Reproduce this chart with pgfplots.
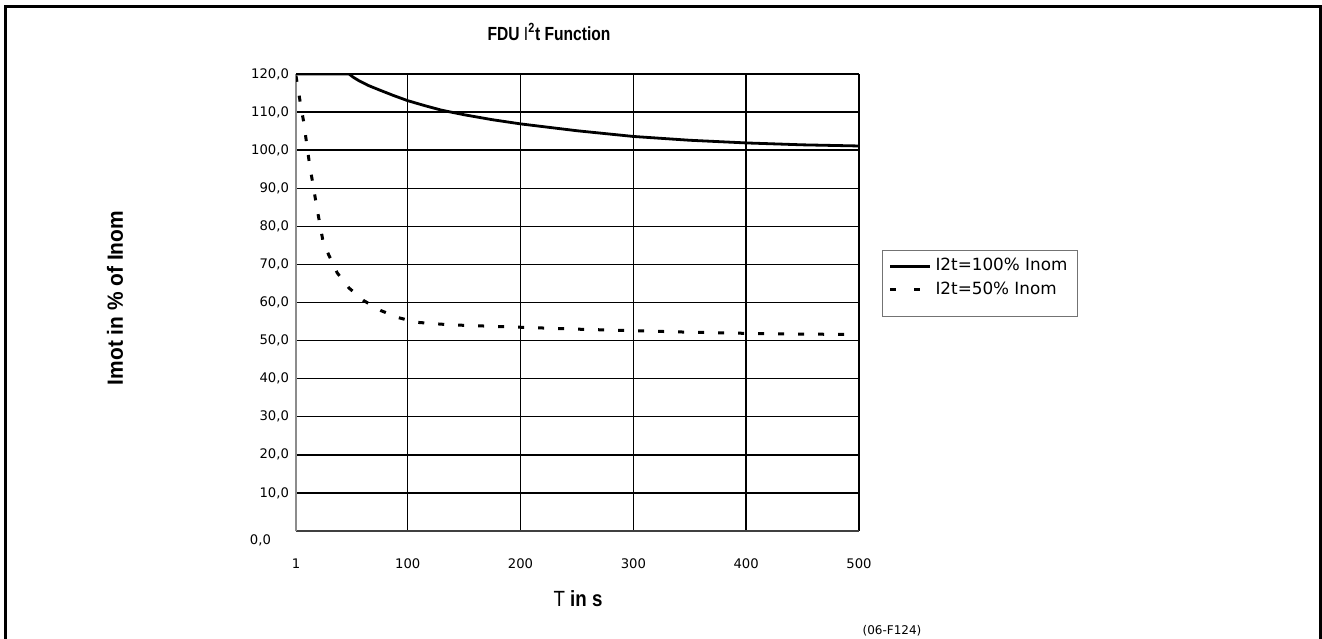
\documentclass[border=0pt]{standalone}
\usepackage{pgfplots}
\pgfplotsset{compat=1.18}
\usepackage{fontspec}
\setmainfont{DejaVu Sans}
\newfontfamily\lab{Liberation Sans}
\begin{document}
\begin{tikzpicture}
\useasboundingbox (0pt,0pt) rectangle (661pt,319pt);
\draw[line width=1.5pt] (2.5pt,-3pt) -- (2.5pt,315.6pt) -- (660.2pt,315.6pt) -- (660.2pt,-3pt);
\begin{axis}[
  at={(148pt,53.5pt)}, anchor=south west, scale only axis,
  width=281.5pt, height=228.5pt,
  xmin=1, xmax=500, ymin=0, ymax=120,
  axis x line*=bottom, axis y line*=left,
  x axis line style={draw=black!75, line width=0.7pt},
  y axis line style={draw=black!45, line width=1pt},
  xtick={100,200,300,400,500}, ytick={10,20,...,120},
  extra x ticks={1}, extra y ticks={0},
  extra x tick style={grid=none},
  extra y tick style={grid=none, yticklabel style={xshift=-9pt, yshift=-4.5pt}},
  major tick length=0pt,
  grid=major, grid style={draw=black, line width=0.7pt},
  /pgf/number format/assume math mode=true,
  ticklabel style={font=\fontsize{6.6pt}{8pt}\selectfont},
  yticklabel style={/pgf/number format/fixed, /pgf/number format/fixed zerofill, /pgf/number format/precision=1, /pgf/number format/use comma},
  xticklabel style={anchor=center, yshift=-16.5pt},
  legend style={at={(1.0409,0.615)}, anchor=north west, draw=black!55, line width=0.5pt,
    font=\fontsize{8.4pt}{10pt}\selectfont, legend cell align=left,
    inner xsep=3pt, inner ysep=2pt, row sep=0pt},
  legend image code/.code={\draw[#1] (0pt,0pt) -- (20pt,0pt);},
]
\addplot[black, line width=1.4pt, forget plot] coordinates {
(1,120) (48,120) (52,119.1) (57,118.2) (65,117.0) (75,115.8) (87,114.4) (100,113.0)
(115,111.7) (130,110.5) (150,109.3) (175,108.0) (200,106.9) (250,105.1) (300,103.6)
(350,102.6) (400,101.9) (450,101.4) (500,101.1)};
\addplot[black, line width=1.5pt, dash pattern=on 3pt off 7pt, forget plot] coordinates {
(1,119.5) (2,117.6) (5,112.1) (8,107.1) (10.4,101.8) (13,96.3) (16,91.1) (19,85.8)
(22,80.8) (25,76) (30,72.5) (37.5,67.8) (48,63.8) (61,60.5) (76,57.9) (92,56.0)
(108,54.8) (130,54.3) (150,54.0) (200,53.5) (250,53.0) (300,52.6) (350,52.2)
(400,51.9) (450,51.7) (500,51.6)};
\addlegendimage{black, line width=1.4pt}
\addlegendentry{I2t=100\% Inom}
\addlegendimage{black, line width=1.5pt, dash pattern=on 3pt off 9pt}
\addlegendentry{I2t=50\% Inom}
\addlegendimage{empty legend}
\addlegendentry{}
\end{axis}
\node[font=\lab\bfseries\fontsize{9.5pt}{11pt}\selectfont] at (274.5pt,303pt) {\scalebox{0.82}[1]{FDU {\mdseries I}\textsuperscript{2}t Function}};
\node[font=\lab\fontsize{11pt}{13pt}\selectfont] at (289pt,19.5pt) {\scalebox{0.85}[1]{T \textbf{in s}}};
\node[font=\lab\bfseries\fontsize{11pt}{13pt}\selectfont, rotate=90] at (57.5pt,170pt) {\scalebox{0.95}[1]{Imot in \% of Inom}};
\node[font=\fontsize{6pt}{7pt}\selectfont] at (446pt,3.5pt) {(06-F124)};
\end{tikzpicture}
\end{document}
